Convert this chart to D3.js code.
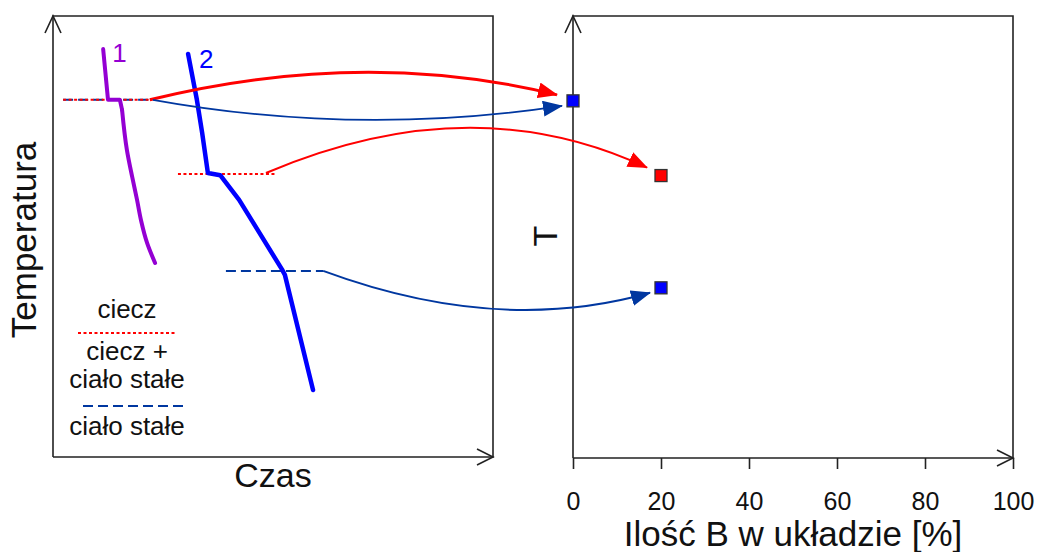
<!DOCTYPE html>
<html>
<head>
<meta charset="utf-8">
<script src="https://cdn.jsdelivr.net/npm/d3@7/dist/d3.min.js"></script>
<style>
  html, body { margin: 0; padding: 0; background: #fff; }
  svg { display: block; font-family: "Liberation Sans", Arial, sans-serif; }
</style>
</head>
<body>
<svg id="chart" width="1037" height="552"></svg>
<script>
// Cooling curves (time, temperature) in arbitrary units 0..100
const curve1Top   = [[11.4, 92.5], [12.5, 81.0], [15.2, 81.0], [15.7, 78.7]];
const curve1Lower = [[15.7, 78.7], [16.8, 69.6], [18.0, 63.5], [19.1, 58.3],
                     [20.0, 53.7], [21.4, 48.5], [23.2, 44.0]];
const curve2 = [[30.7, 91.4], [32.7, 81.0], [33.9, 73.5], [35.2, 64.4], [38.0, 63.9],
                [42.3, 58.3], [52.0, 42.6], [52.7, 41.3], [59.1, 15.2]];

// Thermal arrests: temperature, time span, kind of phase boundary
const arrestT     = [81.0, 64.2, 42.2];
const arrestStart = [2.3, 28.4, 39.3];
const arrestEnd   = [22.5, 50.9, 61.4];
const arrestKind  = ["both", "liquidus", "solidus"];

// Phase diagram points: composition [% B] and temperature
const compB     = [0, 20, 20];
const pointT    = [80.8, 63.9, 38.5];
const pointKind = ["solidus", "liquidus", "solidus"];

// Transfer arrows: start on the cooling curve (time, temperature) -> phase diagram point
const arrowFromTime = [22.0, 22.7, 48.4, 61.4];
const arrowFromT    = [81.0, 81.0, 64.4, 42.2];
const arrowTo       = [0, 0, 1, 2];
const arrowKind     = ["liquidus", "solidus", "liquidus", "solidus"];

const xTicks = [0, 20, 40, 60, 80, 100];

const RED = "#ff0000", DARKBLUE = "#0037a0", BLUE = "#0000ff", PURPLE = "#9400d3", AXIS = "#222";

const svg = d3.select("#chart");

// Scales
const xL = d3.scaleLinear().domain([0, 100]).range([53, 493]);
const yL = d3.scaleLinear().domain([0, 100]).range([457, 16]);
const xR = d3.scaleLinear().domain([0, 100]).range([573, 1013]);
const yR = d3.scaleLinear().domain([0, 100]).range([458, 16]);

// Arrowhead markers
const defs = svg.append("defs");
[["head-red", RED], ["head-blue", DARKBLUE]].forEach(([id, c]) => {
  defs.append("marker")
    .attr("id", id)
    .attr("markerUnits", "userSpaceOnUse")
    .attr("viewBox", "0 0 20 16")
    .attr("markerWidth", 20).attr("markerHeight", 16)
    .attr("refX", 19).attr("refY", 8)
    .attr("orient", "auto")
    .append("path").attr("d", "M0,0 L20,8 L0,16 Z").attr("fill", c);
});

// Frame with arrow on an axis
function chevron(x, y, dir) {
  const p = d3.path();
  if (dir === "up") { p.moveTo(x - 8, y + 17); p.lineTo(x, y); p.lineTo(x + 8, y + 17); }
  else { p.moveTo(x - 16, y - 8); p.lineTo(x, y); p.lineTo(x - 16, y + 8); }
  return p.toString();
}
function frame(xs, ys) {
  const [x0, x1] = xs.range(), [y0, y1] = ys.range();
  const g = svg.append("g").attr("fill", "none").attr("stroke", AXIS).attr("stroke-width", 1.6);
  g.append("path").attr("d", `M${x0},${y0} L${x0},${y1} L${x1},${y1} L${x1},${y0} L${x0},${y0}`);
  g.append("path").attr("d", chevron(x0, y1, "up"));
  g.append("path").attr("d", chevron(x1, y0, "right"));
}
frame(xL, yL);
frame(xR, yR);

// Bottom axis ticks of the phase diagram
const axisB = svg.append("g")
  .attr("transform", `translate(0,${yR(0)})`)
  .call(d3.axisBottom(xR).tickValues(xTicks).tickSize(11).tickPadding(23).tickFormat(d3.format("d")));
axisB.select(".domain").remove();
axisB.selectAll(".tick line").attr("stroke", AXIS).attr("stroke-width", 1.6);
axisB.selectAll(".tick text").attr("font-size", 25).attr("fill", "#111")
  .attr("font-family", "Liberation Sans, Arial, sans-serif");

// Thermal arrest lines
const lineL = d3.line().x(d => xL(d[0])).y(d => yL(d[1]));
const smoothL = d3.line().x(d => xL(d[0])).y(d => yL(d[1])).curve(d3.curveMonotoneY);
arrestT.forEach((T, i) => {
  const pts = [[arrestStart[i], T], [arrestEnd[i], T]];
  const kind = arrestKind[i];
  if (kind === "both" || kind === "solidus") {
    svg.append("path").attr("d", lineL(pts)).attr("fill", "none")
      .attr("stroke", DARKBLUE).attr("stroke-width", 2).attr("stroke-dasharray", "10,5");
  }
  if (kind === "both" || kind === "liquidus") {
    svg.append("path").attr("d", lineL(pts)).attr("fill", "none")
      .attr("stroke", RED).attr("stroke-width", 2).attr("stroke-dasharray", "3,2.5");
  }
});

// Cooling curves
const curveStyle = (sel, c, w) => sel.attr("fill", "none").attr("stroke", c).attr("stroke-width", w)
  .attr("stroke-linecap", "round").attr("stroke-linejoin", "round");
curveStyle(svg.append("path").attr("d", lineL(curve1Top)), PURPLE, 4);
curveStyle(svg.append("path").attr("d", smoothL(curve1Lower)), PURPLE, 4);
curveStyle(svg.append("path").attr("d", lineL(curve2)), BLUE, 4.5);

svg.append("text").attr("x", xL(curve1Top[0][0]) + 9).attr("y", 62)
  .attr("font-size", 26).attr("fill", PURPLE).text("1");
svg.append("text").attr("x", xL(curve2[0][0]) + 11).attr("y", 68)
  .attr("font-size", 26).attr("fill", BLUE).text("2");

// Transfer arrows (quadratic curves): tip offset from the square, bow and skew
const arrowStyle = [
  { dx: -16, dy: -6, bow: 50, skew: 10, w: 3 },
  { dx: -11, dy: 5, bow: -34, skew: 0, w: 1.8 },
  { dx: -14, dy: -8, bow: 85, skew: 15, w: 2 },
  { dx: -11, dy: 5, bow: -54, skew: 12, w: 2 }
];
arrowTo.forEach((k, i) => {
  const s = arrowStyle[i];
  const x0 = xL(arrowFromTime[i]), y0 = yL(arrowFromT[i]);
  const x1 = xR(compB[k]) + s.dx, y1 = yR(pointT[k]) + s.dy;
  const cx = (x0 + x1) / 2 + s.skew, cy = (y0 + y1) / 2 - s.bow;
  const p = d3.path();
  p.moveTo(x0, y0);
  p.quadraticCurveTo(cx, cy, x1, y1);
  const red = arrowKind[i] === "liquidus";
  svg.append("path").attr("d", p.toString()).attr("fill", "none")
    .attr("stroke", red ? RED : DARKBLUE).attr("stroke-width", s.w)
    .attr("marker-end", red ? "url(#head-red)" : "url(#head-blue)");
});

// Phase diagram points
svg.selectAll("rect.pt").data(compB).join("rect")
  .attr("class", "pt")
  .attr("x", (d, i) => xR(d) - 6).attr("y", (d, i) => yR(pointT[i]) - 6)
  .attr("width", 12).attr("height", 12)
  .attr("fill", (d, i) => pointKind[i] === "liquidus" ? RED : BLUE)
  .attr("stroke", "#333").attr("stroke-width", 1.3);

// Legend
const leg = svg.append("g").attr("font-size", 26).attr("fill", "#111").attr("text-anchor", "middle");
leg.append("text").attr("x", 127).attr("y", 318).text("ciecz");
leg.append("line").attr("x1", 78).attr("x2", 176).attr("y1", 333).attr("y2", 333)
  .attr("stroke", RED).attr("stroke-width", 2).attr("stroke-dasharray", "3,2.5");
leg.append("text").attr("x", 127).attr("y", 360).text("ciecz +");
leg.append("text").attr("x", 127).attr("y", 388).text("ciało stałe");
leg.append("line").attr("x1", 83).attr("x2", 183).attr("y1", 406).attr("y2", 406)
  .attr("stroke", DARKBLUE).attr("stroke-width", 2).attr("stroke-dasharray", "10,5");
leg.append("text").attr("x", 127).attr("y", 435).text("ciało stałe");

// Axis titles
svg.append("text").attr("transform", "translate(36,240) rotate(-90)")
  .attr("text-anchor", "middle").attr("font-size", 35).attr("fill", "#111").text("Temperatura");
svg.append("text").attr("x", 273).attr("y", 487)
  .attr("text-anchor", "middle").attr("font-size", 34).attr("fill", "#111").text("Czas");
svg.append("text").attr("transform", "translate(557,236) rotate(-90)")
  .attr("text-anchor", "middle").attr("font-size", 34).attr("fill", "#111").text("T");
svg.append("text").attr("x", 793).attr("y", 546)
  .attr("text-anchor", "middle").attr("font-size", 35).attr("fill", "#111").text("Ilość B w układzie [%]");
</script>
</body>
</html>
